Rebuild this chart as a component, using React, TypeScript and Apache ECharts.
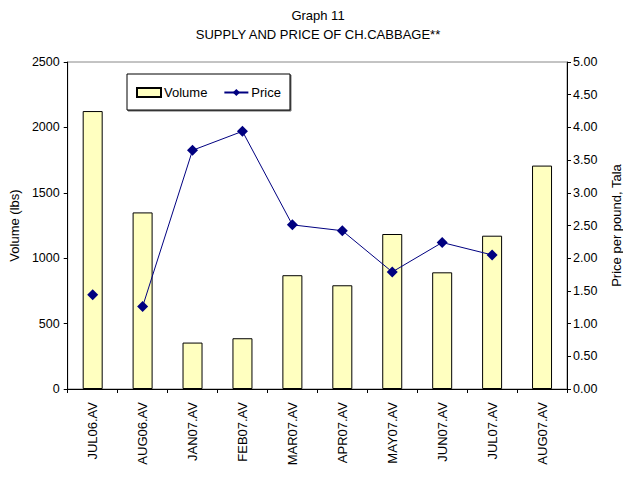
import React, { useEffect, useRef } from "react";
import * as echarts from "echarts";

const categories = [
  "JUL06.AV", "AUG06.AV", "JAN07.AV", "FEB07.AV", "MAR07.AV",
  "APR07.AV", "MAY07.AV", "JUN07.AV", "JUL07.AV", "AUG07.AV",
];
const volume = [2125, 1350, 355, 388, 870, 793, 1185, 892, 1172, 1708];
// The first price point stands alone in the reference (no segment to AUG06).
const priceIsolated = [1.44, null, null, null, null, null, null, null, null, null];
const priceLine = [null, 1.26, 3.65, 3.94, 2.51, 2.42, 1.79, 2.24, 2.05, null];
const titleLines = ["Graph 11", "SUPPLY AND PRICE OF CH.CABBAGE**"];

const FONT = "'Liberation Sans', Arial, sans-serif";

export default function App() {
  const ref = useRef<HTMLDivElement>(null);
  useEffect(() => {
    if (!ref.current) return;
    const chart = echarts.init(ref.current, undefined, { renderer: "svg" });
    const priceStyle = {
      type: "line",
      yAxisIndex: 1,
      connectNulls: false,
      symbol: "diamond",
      symbolSize: 11,
      lineStyle: { color: "#000080", width: 1 },
      itemStyle: { color: "#000080" },
      z: 5,
    };
    chart.setOption({
      animation: false,
      backgroundColor: "#fff",
      textStyle: { fontFamily: FONT, color: "#000" },
      title: {
        text: titleLines.join("\n"),
        left: 313,
        textAlign: "center",
        top: 1,
        textStyle: { fontFamily: FONT, fontSize: 13, fontWeight: "normal", color: "#000", lineHeight: 19 },
      },
      legend: {
        left: 127,
        top: 74,
        orient: "horizontal",
        padding: [12, 9, 11, 9],
        itemGap: 16,
        itemWidth: 24,
        itemHeight: 9,
        borderColor: "#000",
        borderWidth: 1,
        backgroundColor: "#fff",
        shadowColor: "rgba(0,0,0,0.6)",
        shadowOffsetX: 1,
        shadowOffsetY: 1,
        shadowBlur: 0,
        textStyle: { fontFamily: FONT, fontSize: 13, color: "#000", padding: [0, 0, 0, -2] },
        data: [
          { name: "Volume", icon: "rect" },
          { name: "Price" },
        ],
      },
      grid: {
        left: 66,
        right: 61,
        top: 62,
        bottom: 91,
        show: true,
        borderColor: "#888",
        borderWidth: 1,
        backgroundColor: "transparent",
      },
      xAxis: {
        type: "category",
        data: categories,
        axisLine: { lineStyle: { color: "#000", width: 1 } },
        axisTick: { show: true, length: 4, lineStyle: { color: "#000" } },
        axisLabel: { rotate: 90, margin: 13, fontSize: 13, color: "#000", fontFamily: FONT, interval: 0 },
        splitLine: { show: false },
      },
      yAxis: [
        {
          type: "value",
          min: 0,
          max: 2500,
          interval: 500,
          name: "Volume (lbs)",
          nameLocation: "middle",
          nameRotate: 90,
          nameGap: 30,
          nameTextStyle: { fontFamily: FONT, fontSize: 13, color: "#000" },
          axisLine: { show: true, lineStyle: { color: "#000", width: 1 } },
          axisTick: { show: true, length: 4, lineStyle: { color: "#000" } },
          axisLabel: {
            fontSize: 12.5,
            color: "#000",
            fontFamily: FONT,
            margin: 8,
            formatter: (v: number) => String(v),
          },
          splitLine: { show: false },
        },
        {
          type: "value",
          min: 0,
          max: 5,
          interval: 0.5,
          position: "right",
          name: "Price per pound, Tala",
          nameLocation: "middle",
          nameRotate: 90,
          nameGap: 43,
          nameTextStyle: { fontFamily: FONT, fontSize: 13, color: "#000" },
          axisLine: { show: true, lineStyle: { color: "#000", width: 1 } },
          axisTick: { show: true, length: 4, lineStyle: { color: "#000" } },
          axisLabel: {
            fontSize: 12.5,
            color: "#000",
            fontFamily: FONT,
            margin: 6,
            formatter: (v: number) => v.toFixed(2),
          },
          splitLine: { show: false },
        },
      ],
      series: [
        {
          name: "Volume",
          type: "bar",
          yAxisIndex: 0,
          data: volume,
          barWidth: 20,
          itemStyle: { color: "#FFFFC0", borderColor: "#000", borderWidth: 1 },
        },
        { ...priceStyle, name: "Price", data: priceLine },
        { ...priceStyle, name: "Price", data: priceIsolated },
      ],
    });
    return () => chart.dispose();
  }, []);
  return <div ref={ref} style={{ width: 631, height: 480, margin: -8 }} />;
}
